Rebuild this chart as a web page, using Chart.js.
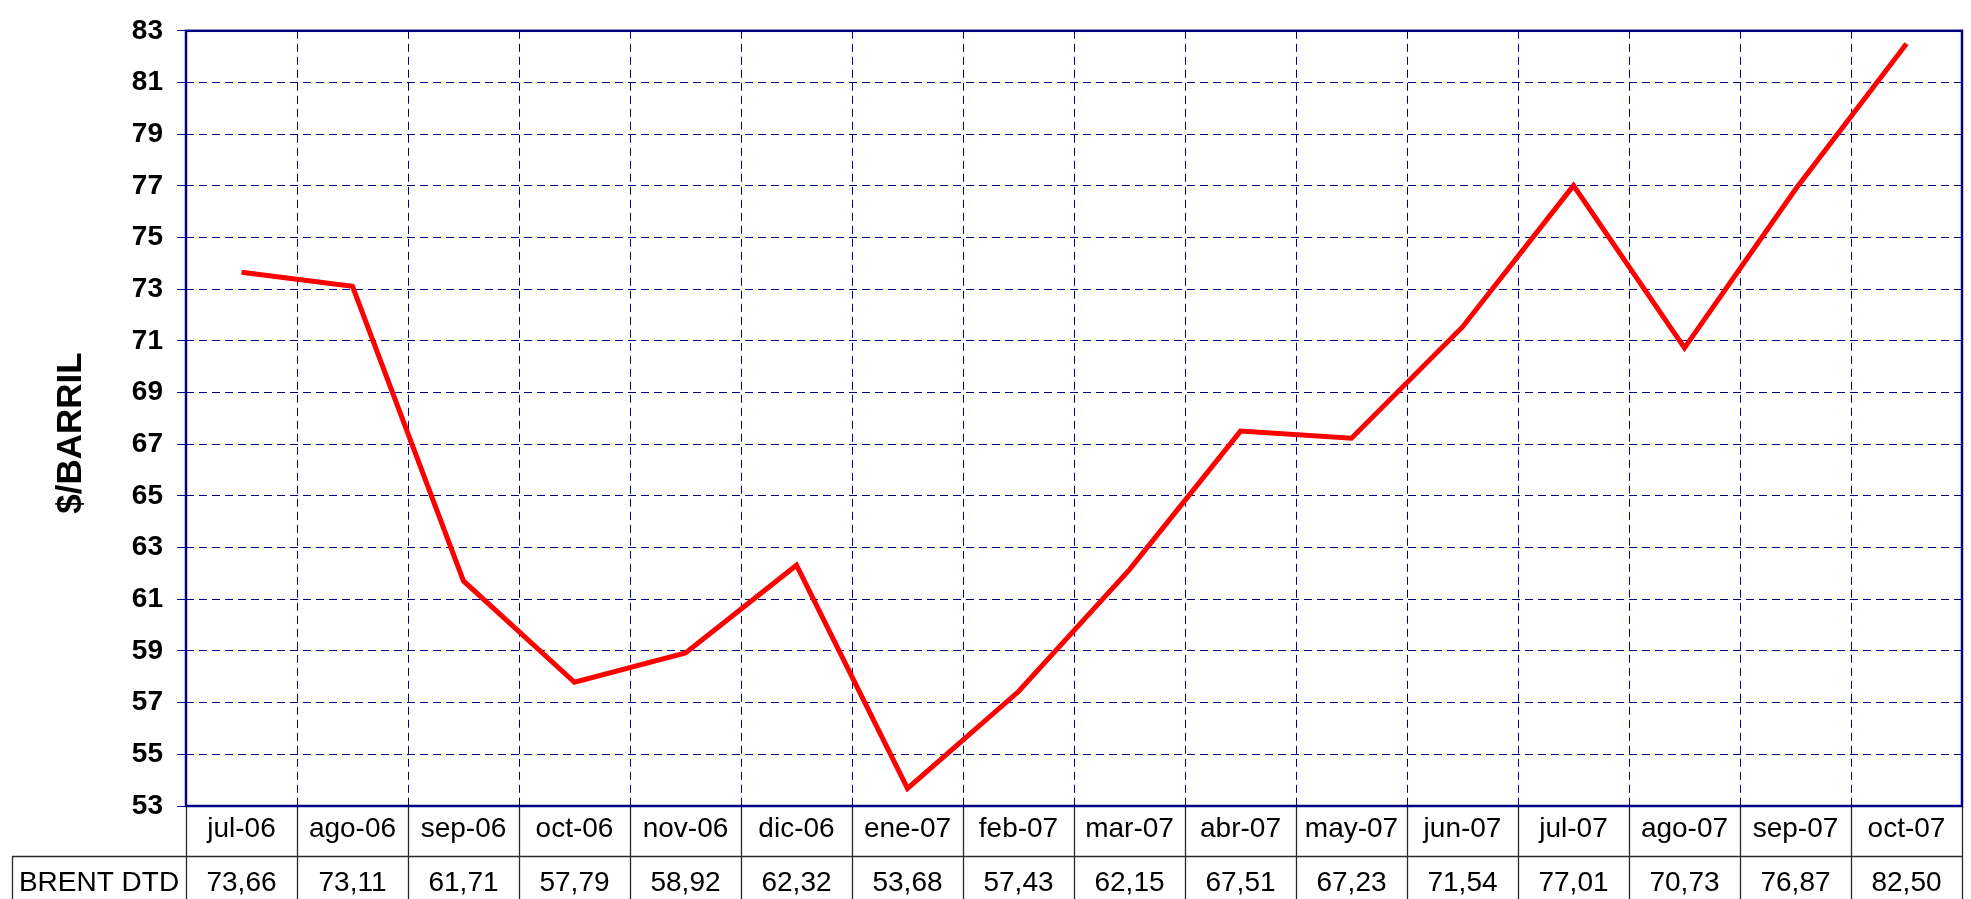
<!DOCTYPE html>
<html>
<head>
<meta charset="utf-8">
<script src="https://cdn.jsdelivr.net/npm/chart.js@4"></script>
<style>
    html, body { margin: 0; padding: 0; background: #ffffff; }
    canvas { display: block; }
</style>
</head>
<body>
<canvas id="brent-chart" width="1971" height="899"></canvas>
<script>
// Datos del grafico
const months = ['jul-06', 'ago-06', 'sep-06', 'oct-06', 'nov-06', 'dic-06', 'ene-07', 'feb-07',
    'mar-07', 'abr-07', 'may-07', 'jun-07', 'jul-07', 'ago-07', 'sep-07', 'oct-07'];
const brentDtd = [73.66, 73.11, 61.71, 57.79, 58.92, 62.32, 53.68, 57.43,
    62.15, 67.51, 67.23, 71.54, 77.01, 70.73, 76.87, 82.50];
const seriesName = 'BRENT DTD';
const yAxisTitle = '$/BARRIL';
const yMin = 53;
const yMax = 83;
const yStep = 2;

const navy = '#000080';
const sansFont = '"Liberation Sans", Arial, sans-serif';

// Tabla de datos bajo el grafico + borde del area
const tablePlugin = {
    id: 'tablePlugin',
    afterDraw(chart) {
        const ctx = chart.ctx;
        const a = chart.chartArea;
        const x = chart.scales.x;
        const rowH = 50;
        const row1Bottom = a.bottom + rowH;
        const tableBottom = chart.height;
        const labelLeft = 12;

        ctx.save();

        // lineas de la tabla
        ctx.strokeStyle = '#2a2a2a';
        ctx.lineWidth = 1.3;
        ctx.beginPath();
        for (let i = 0; i <= months.length; i++) {
            const px = Math.round(x.getPixelForValue(i - 0.5)) + 0.5;
            ctx.moveTo(px, a.bottom);
            ctx.lineTo(px, tableBottom);
        }
        ctx.moveTo(labelLeft, row1Bottom + 0.5);
        ctx.lineTo(a.right, row1Bottom + 0.5);
        ctx.moveTo(labelLeft + 0.5, row1Bottom);
        ctx.lineTo(labelLeft + 0.5, tableBottom);
        ctx.stroke();

        // textos de la tabla
        ctx.fillStyle = '#000000';
        ctx.font = '28px ' + sansFont;
        ctx.textAlign = 'center';
        ctx.textBaseline = 'alphabetic';
        months.forEach(function(m, i) {
            const px = x.getPixelForValue(i);
            ctx.fillText(m, px, a.bottom + 31);
            ctx.fillText(brentDtd[i].toFixed(2).replace('.', ','), px, row1Bottom + 35);
        });
        ctx.fillText(seriesName, (labelLeft + a.left) / 2, row1Bottom + 35);

        // titulo del eje Y
        ctx.save();
        ctx.translate(71, 433);
        ctx.rotate(-Math.PI / 2);
        ctx.textBaseline = 'middle';
        ctx.font = 'bold 35px ' + sansFont;
        ctx.fillText(yAxisTitle, 0, 0);
        ctx.restore();

        // borde del area de trazado
        ctx.strokeStyle = navy;
        ctx.lineWidth = 2.5;
        ctx.strokeRect(a.left, a.top, a.right - a.left, a.bottom - a.top);

        ctx.restore();
    }
};

document.addEventListener('DOMContentLoaded', function() {
    const canvas = document.getElementById('brent-chart');

    new Chart(canvas, {
        type: 'line',
        data: {
            labels: months,
            datasets: [{
                label: seriesName,
                data: brentDtd,
                borderColor: '#ff0000',
                borderWidth: 5,
                pointRadius: 0,
                tension: 0,
                fill: false
            }]
        },
        options: {
            responsive: false,
            animation: false,
            devicePixelRatio: 1,
            layout: {
                padding: { left: 0, top: 23, right: 9, bottom: 0 }
            },
            plugins: {
                legend: { display: false },
                tooltip: { enabled: false }
            },
            scales: {
                x: {
                    type: 'category',
                    offset: true,
                    grid: {
                        offset: true,
                        color: navy,
                        lineWidth: 1,
                        drawTicks: false
                    },
                    border: { display: false, dash: [8, 5] },
                    ticks: { display: false },
                    afterFit: function(scale) { scale.height = 93; }
                },
                y: {
                    min: yMin,
                    max: yMax,
                    grid: {
                        color: navy,
                        lineWidth: 1,
                        tickLength: 9,
                        tickColor: navy
                    },
                    border: { display: false, dash: [8, 5] },
                    ticks: {
                        stepSize: yStep,
                        padding: 14,
                        color: '#000000',
                        font: { family: sansFont, size: 28, weight: 'bold' }
                    },
                    afterFit: function(scale) { scale.width = 186; }
                }
            }
        },
        plugins: [tablePlugin]
    });
});
</script>
</body>
</html>
